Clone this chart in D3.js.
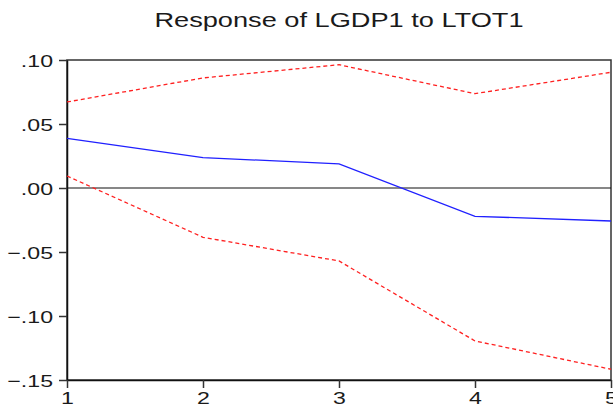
<!DOCTYPE html>
<html>
<head>
<meta charset="utf-8">
<script src="https://cdn.jsdelivr.net/npm/d3@7"></script>
<style>
body{margin:0;background:#fff;}
svg{display:block;}
</style>
</head>
<body>
<div id="chart"></div>
<script>
(function(){

const periods = [1,2,3,4,5];
const response = [0.0388,0.0238,0.0188,-0.0221,-0.0258];
const upperBand = [0.0672,0.0860,0.0963,0.0737,0.0904];
const lowerBand = [0.0094,-0.0385,-0.0570,-0.1195,-0.1416];
const yTicks = [0.10,0.05,0.00,-0.05,-0.10,-0.15];
const title = "Response of LGDP1 to LTOT1";

const width = 613;
const height = 409;
const margin = {top:60,right:2,bottom:29,left:67};
const sx = 1.36;

const svg = d3.select("#chart")
.append("svg")
.attr("width",width)
.attr("height",height);

const x = d3.scaleLinear()
.domain([1,5])
.range([margin.left,width-margin.right]);

const y = d3.scaleLinear()
.domain([-0.15,0.10])
.range([height-margin.bottom,margin.top]);

const fmt = d => d3.format(".2f")(d).replace("0.",".");

// frame
svg.append("rect")
.attr("x",x(1))
.attr("y",y(0.10))
.attr("width",x(5)-x(1))
.attr("height",y(-0.15)-y(0.10))
.attr("fill","none")
.attr("stroke","#333")
.attr("stroke-width",1.5);

// zero line
svg.append("line")
.attr("x1",x(1)).attr("x2",x(5))
.attr("y1",y(0)).attr("y2",y(0))
.attr("stroke","#111")
.attr("stroke-width",1.2);

const yAxis = svg.append("g")
.attr("transform",`translate(${margin.left},0)`)
.call(d3.axisLeft(y).tickValues(yTicks).tickFormat(fmt).tickSize(8).tickSizeOuter(0).tickPadding(0));

const xAxis = svg.append("g")
.attr("transform",`translate(0,${height-margin.bottom})`)
.call(d3.axisBottom(x).tickValues(periods).tickFormat(d3.format("d")).tickSize(8).tickSizeOuter(0).tickPadding(0));

[yAxis,xAxis].forEach(g=>{
  g.select(".domain").attr("stroke","#111").attr("stroke-width",1.5);
  g.selectAll(".tick line").attr("stroke","#333").attr("stroke-width",1.5);
  g.selectAll("text")
  .attr("fill","#1a1a1a")
  .style("font-family","'Liberation Sans',Arial,sans-serif")
  .style("font-size","17px");
});

yAxis.selectAll(".tick text")
.attr("x",0)
.attr("dy","0.36em")
.attr("transform",`translate(-14,0) scale(${sx},1)`);

xAxis.selectAll(".tick text")
.attr("y",0)
.attr("dy","0")
.attr("transform",`translate(0,24) scale(${sx},1)`);

const line = d3.line()
.x((d,i)=>x(periods[i]))
.y(d=>y(d));

svg.append("path")
.datum(upperBand)
.attr("d",line)
.attr("fill","none")
.attr("stroke","#ff2020")
.attr("stroke-width",1.3)
.attr("stroke-dasharray","4,3");

svg.append("path")
.datum(lowerBand)
.attr("d",line)
.attr("fill","none")
.attr("stroke","#ff2020")
.attr("stroke-width",1.3)
.attr("stroke-dasharray","4,3");

svg.append("path")
.datum(response)
.attr("d",line)
.attr("fill","none")
.attr("stroke","#2020ff")
.attr("stroke-width",1.3);

svg.append("text")
.attr("transform",`translate(${(x(1)+x(5))/2},27) scale(${sx},1)`)
.attr("text-anchor","middle")
.attr("fill","#1a1a1a")
.style("font-family","'Liberation Sans',Arial,sans-serif")
.style("font-size","20px")
.text(title);

})();
</script>
</body>
</html>
